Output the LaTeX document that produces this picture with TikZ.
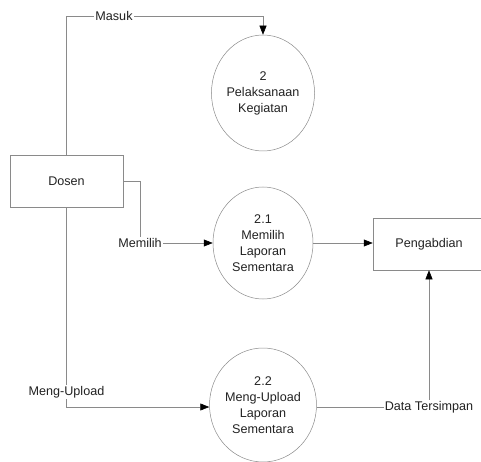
\documentclass[tikz,border=0pt]{standalone}
\usepackage{fontspec}
\setmainfont{Liberation Sans}
\usetikzlibrary{shapes.geometric,arrows.meta}
\definecolor{linegray}{HTML}{8A8A8A}
\definecolor{txt}{HTML}{222222}
\begin{document}
\begin{tikzpicture}[x=1pt,y=-1pt,
  font=\fontsize{12.6}{16}\selectfont, text=txt,
  proc/.style={ellipse, draw=linegray, line width=0.5pt, minimum width=100pt,
    minimum height=114pt, inner sep=0pt, align=center},
  entity/.style={rectangle, draw=linegray, line width=0.5pt, minimum width=113pt,
    minimum height=52pt, inner sep=0pt},
  flow/.style={draw=linegray, line width=0.5pt, -{Triangle[length=9pt,width=7pt,color=black]}},
  plain/.style={draw=linegray, line width=0.5pt},
  flowlabel/.style={fill=white, inner sep=1pt}]
\useasboundingbox (0,0) rectangle (481,462);
\clip (0,0) rectangle (481,462);

% external entities
\node[entity] (dosen) at (66.5,181) {Dosen};
\node[entity, minimum width=112pt] (peng) at (429,244) {Pengabdian};

% processes
\node[proc, minimum height=116pt] (p2) at (263,93) {2\\Pelaksanaan\\Kegiatan};
\node[proc, minimum height=112pt] (p21) at (263,243) {2.1\\Memilih\\Laporan\\Sementara};
\node[proc] (p22) at (263,405) {2.2\\Meng-Upload\\Laporan\\Sementara};

% bend points of the flows
\coordinate (mtop) at (66.5,16);
\coordinate (mcorner) at (263,16);
\coordinate (selA) at (140,181);
\coordinate (selB) at (140,243);
\coordinate (upB) at (66.5,407);
\coordinate (dsB) at (429,407);

% Masuk: Dosen -> 2
\draw[flow] (dosen.north) -- (mtop) -- (mcorner) -- (p2.north);
\node[flowlabel] (lmasuk) at (114,16) {Masuk};

% Memilih: Dosen -> 2.1
\draw[flow] (dosen.east |- selA) -- (selA) -- (selB) -- (p21.west);
\node[flowlabel] (lmemilih) at (140,243) {Memilih};

% Meng-Upload: Dosen -> 2.2
\draw[flow] (dosen.south) -- (upB) -- (p22.west |- upB);
\node[flowlabel] (lupload) at (66.5,392) {Meng-Upload};

% 2.1 -> Pengabdian
\draw[flow] (p21.east) -- (peng.west |- p21.east);

% Data Tersimpan: 2.2 -> Pengabdian
\draw[flow] (p22.east |- dsB) -- (dsB) -- (peng.south);
\node[flowlabel] (ldata) at (429,407) {Data Tersimpan};
\end{tikzpicture}
\end{document}
